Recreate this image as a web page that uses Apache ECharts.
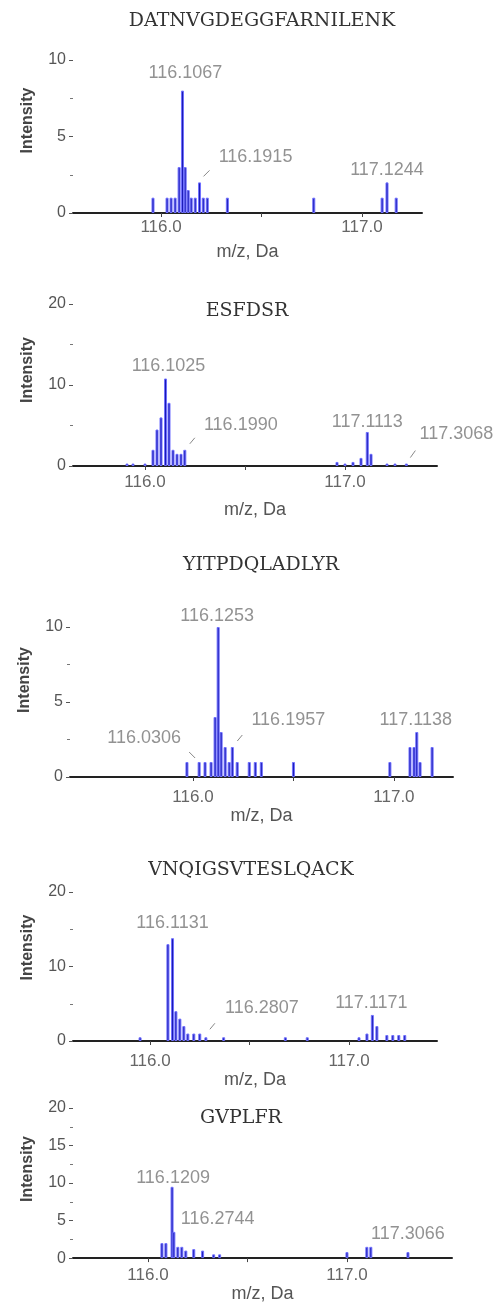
<!DOCTYPE html>
<html><head><meta charset="utf-8">
<script src="https://cdn.jsdelivr.net/npm/echarts@6/dist/echarts.min.js"></script>
<style>html,body{margin:0;padding:0;background:#fff}#c{width:504px;height:1304px}</style>
</head><body><div id="c"></div>
<script>
// ---------- DATA ----------
const titles = ['DATNVGDEGGFARNILENK', 'ESFDSR', 'YITPDQLADLYR', 'VNQIGSVTESLQACK', 'GVPLFR'];

const peaks1 = [[115.96,1.0],[116.03,1.0],[116.05,1.0],[116.07,1.0],[116.09,3.0],[116.1067,8.0],[116.12,3.0],[116.135,1.5],[116.15,1.0],[116.17,1.0],[116.1915,2.0],[116.21,1.0],[116.23,1.0],[116.33,1.0],[116.76,1.0],[117.10,1.0],[117.1244,2.0],[117.17,1.0]];
const peaks2 = [[115.91,0.3],[115.94,0.3],[116.00,0.3],[116.04,2.0],[116.06,4.5],[116.08,6.0],[116.1025,10.8],[116.12,7.8],[116.14,2.0],[116.16,1.5],[116.18,1.5],[116.199,2.0],[116.96,0.5],[117.00,0.3],[117.04,0.5],[117.08,1.0],[117.1113,4.2],[117.13,1.5],[117.21,0.3],[117.25,0.3],[117.3068,0.3]];
const peaks3 = [[115.97,1.0],[116.0306,1.0],[116.06,1.0],[116.09,1.0],[116.11,4.0],[116.1253,10.0],[116.14,3.0],[116.16,2.0],[116.18,1.0],[116.1957,2.0],[116.22,1.0],[116.28,1.0],[116.31,1.0],[116.34,1.0],[116.50,1.0],[116.98,1.0],[117.08,2.0],[117.10,2.0],[117.1138,3.0],[117.13,1.0],[117.19,2.0]];
const peaks4 = [[115.95,0.5],[116.09,13.0],[116.1131,13.8],[116.13,4.0],[116.15,3.0],[116.17,2.0],[116.19,1.0],[116.22,1.0],[116.25,1.0],[116.2807,0.5],[116.37,0.5],[116.68,0.5],[116.79,0.5],[117.05,0.5],[117.09,1.0],[117.1171,3.5],[117.14,2.0],[117.19,0.8],[117.22,0.8],[117.25,0.8],[117.28,0.8]];
const peaks5 = [[116.07,2.0],[116.09,2.0],[116.1209,9.5],[116.13,3.5],[116.15,1.5],[116.17,1.5],[116.19,1.0],[116.23,1.2],[116.2744,1.0],[116.33,0.5],[116.36,0.5],[117.00,0.8],[117.10,1.5],[117.12,1.5],[117.3066,0.8]];

const annot1 = ['116.1067', '116.1915', '117.1244'];
const annot2 = ['116.1025', '116.1990', '117.1113', '117.3068'];
const annot3 = ['116.1253', '116.0306', '116.1957', '117.1138'];
const annot4 = ['116.1131', '116.2807', '117.1171'];
const annot5 = ['116.1209', '116.2744', '117.3066'];

const yMaxes = [10, 20, 10, 20, 20];
const yLabelSteps = [5, 10, 5, 10, 5];
const xTickValues = [116.0, 116.5, 117.0];
const xLabelValues = [116.0, 117.0];
const xName = 'm/z, Da';
const yName = 'Intensity';

// ---------- LAYOUT / STYLE ----------
const peaksAll = [peaks1, peaks2, peaks3, peaks4, peaks5];
const annotAll = [annot1, annot2, annot3, annot4, annot5];
const layout = [
  {left:73, top:60, width:349, height:153, xmin:115.562, xmax:117.2985, titleX:262, titleY:12, labMargin:6, nameGap:30, yShift:16,
   ann:[[3,-18],[56,-25],[0,-12]], arrows:[null,[4,-6,10,-12],null]},
  {left:73, top:304, width:364, height:162, xmin:115.64, xmax:117.46, titleX:247, titleY:302, labMargin:8, nameGap:35, yShift:15,
   ann:[[3,-12],[56,-25],[0,-10],[50,-30]], arrows:[null,[5,-6,10,-12],null,[4,-6,9,-13]]},
  {left:70, top:627, width:383, height:150, xmin:115.388, xmax:117.294, titleX:261, titleY:556, labMargin:12, nameGap:29, yShift:22,
   ann:[[-1,-11],[-55,-24],[56,-27],[-1,-12]], arrows:[null,[-4,-4,-10,-10],[5,-6,10,-12],null]},
  {left:73, top:892, width:364, height:149, xmin:115.613, xmax:117.442, titleX:251, titleY:861, labMargin:12, nameGap:25, yShift:19,
   ann:[[0,-15],[56,-29],[-1,-12]], arrows:[null,[4,-8,9,-14],null]},
  {left:73, top:1108, width:379, height:159, xmin:115.623, xmax:117.528, titleX:241, titleY:1109, labMargin:9, nameGap:19, yShift:14,
   ann:[[1,-9],[15,-32],[0,-18]], arrows:[null,null,null]}
];

function peakAt(peaks, mz) {
  let best = peaks[0];
  for (const p of peaks) if (Math.abs(p[0] - mz) < Math.abs(best[0] - mz)) best = p;
  return best[1];
}

const option = {
  backgroundColor: '#fff',
  animation: false,
  title: [], grid: [], xAxis: [], yAxis: [], series: []
};

layout.forEach((L, i) => {
  option.title.push({
    text: titles[i], left: L.titleX, top: L.titleY, textAlign: 'center', padding: 0,
    textStyle: {fontFamily: 'DejaVu Serif', fontSize: 19, fontWeight: 'normal', color: '#333'}
  });
  option.grid.push({left: L.left, top: L.top, width: L.width, height: L.height});
  option.xAxis.push({
    type: 'value', gridIndex: i, min: L.xmin, max: L.xmax,
    axisLine: {show: true, onZero: false, lineStyle: {color: '#222', width: 2}},
    axisTick: {show: true, customValues: xTickValues, length: 4, lineStyle: {color: '#444'}},
    axisLabel: {customValues: xLabelValues, formatter: v => Number(v).toFixed(1), color: '#666',
      fontFamily: 'Liberation Sans', fontSize: 17, margin: L.labMargin},
    splitLine: {show: false},
    name: xName, nameLocation: 'middle', nameGap: L.nameGap,
    nameTextStyle: {color: '#555', fontFamily: 'Liberation Sans', fontSize: 18}
  });
  option.yAxis.push({
    type: 'value', gridIndex: i, min: 0, max: yMaxes[i], interval: yLabelSteps[i],
    axisLine: {show: false},
    axisTick: {show: true, length: 4, lineStyle: {color: '#555'}},
    minorTick: {show: true, splitNumber: 2, length: 3, lineStyle: {color: '#777'}},
    axisLabel: {color: '#555', fontFamily: 'Liberation Sans', fontSize: 16, margin: 7},
    splitLine: {show: false},
    name: yName, nameLocation: 'middle', nameGap: 37,
    nameTextStyle: {color: '#444', fontFamily: 'Liberation Sans', fontSize: 16, fontWeight: 'bold',
      padding: [0, 0, 0, L.yShift * 2]}
  });
  option.series.push({
    type: 'bar', xAxisIndex: i, yAxisIndex: i, data: peaksAll[i], barWidth: 3,
    itemStyle: {color: '#1a1ab4', borderColor: '#7070ff', borderWidth: 1},
    silent: true
  });
  const annData = annotAll[i].map((t, k) => {
    const mz = parseFloat(t);
    return {name: t, value: [mz, peakAt(peaksAll[i], mz)], label: {offset: L.ann[k]}};
  });
  option.series.push({
    type: 'scatter', xAxisIndex: i, yAxisIndex: i, symbolSize: 0,
    itemStyle: {color: 'rgba(0,0,0,0)'}, silent: true, z: 5,
    data: annData,
    label: {show: true, position: 'inside', formatter: p => p.name, color: '#777',
      fontFamily: 'Liberation Sans', fontSize: 18, align: 'center', verticalAlign: 'middle'}
  });
  const arrowItems = [], arrowOffs = [];
  annotAll[i].forEach((t, k) => {
    if (L.arrows[k]) {
      const mz = parseFloat(t);
      arrowItems.push([mz, peakAt(peaksAll[i], mz)]);
      arrowOffs.push(L.arrows[k]);
    }
  });
  if (arrowItems.length) {
    option.series.push({
      type: 'custom', xAxisIndex: i, yAxisIndex: i, silent: true, z: 6,
      data: arrowItems,
      renderItem: (params, api) => {
        const a = arrowOffs[params.dataIndex];
        const p = api.coord([api.value(0), api.value(1)]);
        return {type: 'line', shape: {x1: p[0] + a[0], y1: p[1] + a[1], x2: p[0] + a[2], y2: p[1] + a[3]},
          style: {stroke: '#888', lineWidth: 1}};
      }
    });
  }
});

const chart = echarts.init(document.getElementById('c'), null, {renderer: 'canvas'});
chart.setOption(option);
</script></body></html>
